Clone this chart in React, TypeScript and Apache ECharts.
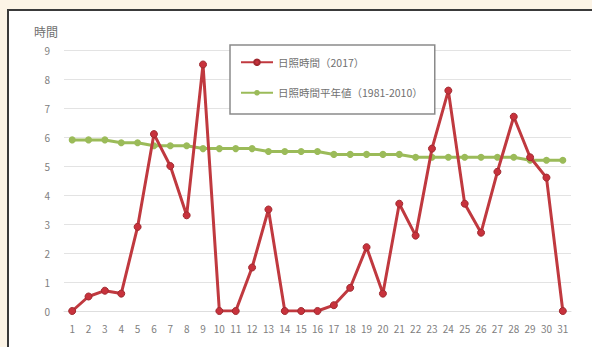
import React, { useEffect, useRef } from "react";
import * as echarts from "echarts";

const days = Array.from({ length: 31 }, (_, i) => String(i + 1));
const sunshine2017 = [0, 0.5, 0.7, 0.6, 2.9, 6.1, 5.0, 3.3, 8.5, 0, 0, 1.5, 3.5, 0, 0, 0, 0.2, 0.8, 2.2, 0.6, 3.7, 2.6, 5.6, 7.6, 3.7, 2.7, 4.8, 6.7, 5.3, 4.6, 0];
const sunshineNormal = [5.9, 5.9, 5.9, 5.8, 5.8, 5.7, 5.7, 5.7, 5.6, 5.6, 5.6, 5.6, 5.5, 5.5, 5.5, 5.5, 5.4, 5.4, 5.4, 5.4, 5.4, 5.3, 5.3, 5.3, 5.3, 5.3, 5.3, 5.3, 5.2, 5.2, 5.2];
const seriesNames = ["日照時間（2017）", "日照時間平年値（1981-2010）"];
const yAxisTitle = "時間";

const FONT = "'Noto Sans CJK JP', 'Noto Sans', sans-serif";

export default function App() {
  const ref = useRef<HTMLDivElement>(null);
  useEffect(() => {
    if (!ref.current) return;
    const chart = echarts.init(ref.current, null, { renderer: "svg" });
    chart.setOption({
      animation: false,
      backgroundColor: "#fcf4e6",
      textStyle: { fontFamily: FONT },
      graphic: [
        {
          type: "rect",
          left: 7,
          top: 9,
          shape: { width: 600, height: 400 },
          style: { fill: "#ffffff", stroke: "#3a3a3a", lineWidth: 2 },
          z: -10,
        },
        {
          type: "text",
          left: 34,
          top: 25,
          style: { text: yAxisTitle, fill: "#707070", fontSize: 12, fontFamily: FONT },
        },
      ],
      legend: {
        orient: "vertical",
        left: 230,
        top: 45,
        width: 208,
        padding: [12, 12, 16, 10],
        itemGap: 20,
        itemWidth: 32,
        itemHeight: 7,
        borderColor: "#8a8a8a",
        borderWidth: 1.5,
        backgroundColor: "#ffffff",
        textStyle: { color: "#707070", fontSize: 10.5, fontFamily: FONT },
        data: seriesNames,
      },
      grid: { left: 64, right: 21, top: 50, bottom: 36 },
      xAxis: {
        type: "category",
        data: days,
        boundaryGap: true,
        axisLine: { show: true, lineStyle: { color: "#dedede" } },
        axisTick: { show: false },
        axisLabel: { color: "#808080", fontSize: 10, margin: 12, interval: 0, fontFamily: FONT },
      },
      yAxis: {
        type: "value",
        min: 0,
        max: 9,
        interval: 1,
        axisLine: { show: false },
        axisTick: { show: false },
        axisLabel: { color: "#808080", fontSize: 10, margin: 14, fontFamily: FONT },
        splitLine: { lineStyle: { color: "#e3e3e3", width: 1 } },
      },
      series: [
        {
          name: seriesNames[1],
          type: "line",
          data: sunshineNormal,
          symbol: "circle",
          symbolSize: 7,
          lineStyle: { color: "#9bbb59", width: 3 },
          itemStyle: { color: "#9bbb59" },
          z: 2,
        },
        {
          name: seriesNames[0],
          type: "line",
          data: sunshine2017,
          symbol: "circle",
          symbolSize: 7,
          lineStyle: { color: "#c0393f", width: 3 },
          itemStyle: { color: "#c8323c", borderColor: "#a02a30", borderWidth: 1 },
          z: 3,
        },
      ],
    });
    return () => chart.dispose();
  }, []);
  return (
    <div
      ref={ref}
      style={{ position: "fixed", left: 0, top: 0, width: 592, height: 347 }}
    />
  );
}
